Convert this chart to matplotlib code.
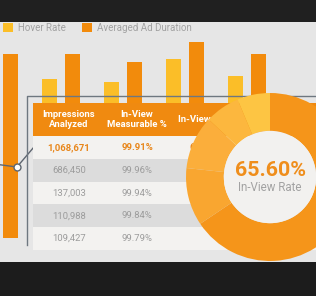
import matplotlib.pyplot as plt
from matplotlib.patches import Rectangle, Circle
import numpy as np

plt.rcParams['font.family'] = ['Roboto', 'DejaVu Sans']

# bar chart (behind the table)
hover_rate = [np.nan, 159, 156, 179, 162]
ad_duration = [184, 184, 176, 196, 184]
line_x = [-0.2, 0.29, 0.66]
line_y = [75, 71, 98]

# table
col_headers = ["Impressions\nAnalyzed", "In-View\nMeasurable %", "In-View Rate"]
impressions = ["1,068,671", "686,450", "137,003", "110,988", "109,427"]
measurable = ["99.91%", "99.96%", "99.94%", "99.84%", "99.79%"]
inview = ["65.60%", "", "", "", ""]

# donut
donut_shares = [65.6, 11.1, 10.3, 6.7, 6.3]
donut_colors = ['#F5951A', '#F9A630', '#FBAE3B', '#FCB73E', '#FDC543']
donut_label = "65.60%"
donut_sub = "In-View Rate"

W, H = 316, 296
BG = '#E6E6E6'
YELLOW = '#FBBE28'
ORANGE = '#F28B0C'
GRAY_TXT = '#A2A2A2'

fig = plt.figure(figsize=(W / 100, H / 100), dpi=100, facecolor=BG)

# ---- bars
base_px = 238
axb = fig.add_axes([0, (H - base_px) / H, 1, (base_px - 22) / H])
axb.set_facecolor('none')
pitch = 62
x = np.arange(len(ad_duration))
off = 11.5 / pitch
bw = 15 / pitch
axb.bar(x - off, hover_rate, width=bw, color=YELLOW, label="Hover Rate")
axb.bar(x + off, ad_duration, width=bw, color=ORANGE, label="Averaged Ad Duration")
axb.plot(line_x, line_y, color='#5E6670', lw=1.0, marker='o', markevery=[1],
         markersize=5, markerfacecolor='white', markeredgecolor='#5E6670', mew=1)
x0 = 1 / pitch
axb.set_xlim(x0, x0 + W / pitch)
axb.set_ylim(0, base_px - 22)
axb.axis('off')
axb.legend(ncol=2, loc='upper left', bbox_to_anchor=(3 / W, 1 - 23 / H),
           bbox_transform=fig.transFigure, frameon=False, fontsize=7,
           labelcolor=GRAY_TXT, handlelength=1.0, handleheight=1.0,
           handletextpad=0.5, columnspacing=1.7, borderpad=0, borderaxespad=0)

# ---- table overlay, pixel coords
ax = fig.add_axes([0, 0, 1, 1])
ax.set_xlim(0, W)
ax.set_ylim(H, 0)
ax.axis('off')
ax.set_facecolor('none')

ax.plot([27, 27, W], [245, 96, 96], color='#6E7780', lw=1.0)
left, top, head_h, row_h = 33, 103, 33, 22.8
col_c = [69, 137, 205]
ax.add_patch(Rectangle((left, top), W - left, head_h, color='#F08A10', lw=0))
for j, h in enumerate(col_headers):
    ax.text(col_c[j], top + head_h / 2, h, ha='center', va='center', color='white',
            fontsize=6.8, fontweight='bold', linespacing=1.15)
for i in range(len(impressions)):
    y = top + head_h + i * row_h
    ax.add_patch(Rectangle((left, y), W - left, row_h,
                           color='#F3F2F0' if i % 2 == 0 else '#DCDCDC', lw=0))
    first = i == 0
    for j, v in enumerate([impressions[i], measurable[i], inview[i]]):
        ax.text(col_c[j], y + row_h / 2, v, ha='center', va='center',
                color='#E8861A' if first else '#9C9C9C', fontsize=6.8,
                fontweight='bold' if first else 'normal')

# ---- donut
cx, cy, r = 270, 177, 84
axd = fig.add_axes([(cx - r) / W, (H - cy - r) / H, 2 * r / W, 2 * r / H])
axd.pie(donut_shares, colors=donut_colors, startangle=90, counterclock=False,
        radius=1, wedgeprops=dict(width=0.45, linewidth=0))
axd.add_patch(Circle((0, 0), 0.55, color='#F2F1EF', lw=0))
axd.set_xlim(-1, 1)
axd.set_ylim(-1, 1)
axd.set_aspect('auto')
axd.text(0, 0.08, donut_label, ha='center', va='center', color='#EF8E1C',
         fontsize=15.4, fontweight='bold')
axd.text(0, -0.13, donut_sub, ha='center', va='center', color=GRAY_TXT, fontsize=8.3)

# ---- dark bands
axt = fig.add_axes([0, 0, 1, 1])
axt.set_xlim(0, W)
axt.set_ylim(H, 0)
axt.axis('off')
axt.add_patch(Rectangle((0, 0), W, 22, color='#202020', lw=0))
axt.add_patch(Rectangle((0, 262), W, H - 262, color='#1C1C1C', lw=0))

fig.savefig('out.png', dpi=100, facecolor=BG)
